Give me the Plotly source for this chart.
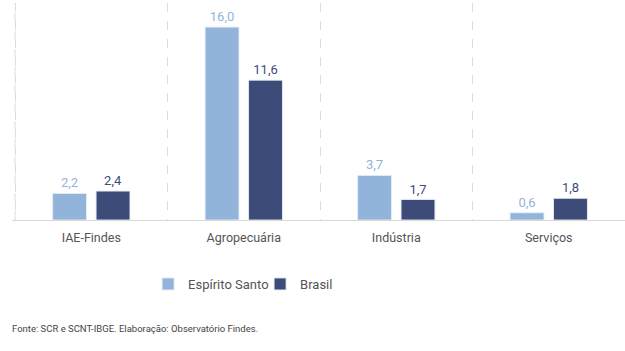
import plotly.graph_objects as go

categories = ["IAE-Findes", "Agropecuária", "Indústria", "Serviços"]
es_values = [2.2, 16.0, 3.7, 0.6]
br_values = [2.4, 11.6, 1.7, 1.8]
series_names = ["Espírito Santo", "Brasil"]
colors = ["#93B4DA", "#3D4B78"]

fig = go.Figure()
for name, vals, col in zip(series_names, [es_values, br_values], colors):
    fig.add_trace(go.Bar(
        x=categories, y=vals, name=name,
        marker=dict(color=col, line=dict(color="rgba(230,236,245,0.9)", width=1)),
        texttemplate="%{y:.1f}", textposition="outside", cliponaxis=False,
        textfont=dict(color=col, size=13, family="Roboto", weight=400),
    ))

fig.update_layout(
    width=625, height=351,
    margin=dict(l=12, r=0, t=3, b=131),
    paper_bgcolor="white", plot_bgcolor="white",
    separators=",.",
    barmode="group", bargap=0.43, bargroupgap=0.22,
    font=dict(family="Roboto", size=13, color="#555555", weight=400),
    showlegend=True,
    legend=dict(orientation="h", x=0.222, xanchor="left", y=-0.295, yanchor="middle",
                itemwidth=30, entrywidth=67, font=dict(size=13, color="#555555"),
                tracegroupgap=0),
    xaxis=dict(range=[-0.52, 3.5], showline=True, linecolor="#d9d9d9", linewidth=1,
               tickson="boundaries",
               showgrid=True, gridcolor="#dcdcdc", griddash="dash", gridwidth=1,
               ticks="", ticklabelstandoff=6,
               tickfont=dict(size=12.5, color="#555555"), fixedrange=True),
    yaxis=dict(range=[0, 18], visible=False, showgrid=False, zeroline=False),
    shapes=[dict(type="line", xref="x", yref="paper", x0=-0.5, x1=-0.5, y0=0, y1=1,
                 line=dict(color="#dcdcdc", width=1, dash="dash"), layer="below")],
    annotations=[dict(text="Fonte: SCR e SCNT-IBGE. Elaboração: Observatório Findes.",
                      xref="paper", yref="paper", x=-0.003, y=-0.498,
                      xanchor="left", yanchor="middle", showarrow=False,
                      font=dict(size=9.5, color="#444444", family="Roboto"))],
)

fig.write_html("out.html")
